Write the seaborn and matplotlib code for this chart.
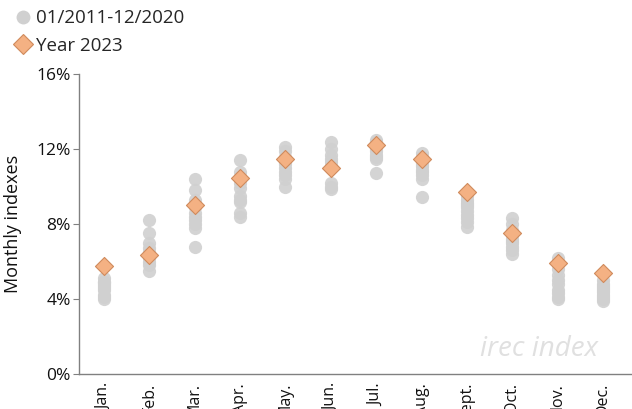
import matplotlib
matplotlib.use('Agg')
import numpy as np
import pandas as pd
import matplotlib.pyplot as plt
import seaborn as sns
from matplotlib.lines import Line2D
from matplotlib.ticker import FuncFormatter

months = ['Jan.', 'Feb.', 'Mar.', 'Apr.', 'May.', 'Jun.', 'Jul.', 'Aug.', 'Sept.', 'Oct.', 'Nov.', 'Dec.']

# monthly indexes 2011-2020 (%), ten values per month
jan = [5.1, 4.9, 4.8, 4.7, 4.6, 4.5, 4.2, 4.1, 4.0, 4.9]
feb = [8.2, 7.5, 7.0, 6.7, 6.4, 6.2, 6.0, 5.8, 5.5, 6.5]
mar = [10.4, 9.8, 9.3, 8.9, 8.4, 8.2, 8.0, 7.8, 6.8, 8.6]
apr = [11.4, 10.8, 10.5, 10.2, 9.9, 9.5, 9.3, 9.2, 8.6, 8.4]
may = [12.1, 11.9, 11.6, 11.3, 11.0, 10.8, 10.6, 10.4, 10.0, 11.2]
jun = [12.4, 12.0, 11.7, 11.5, 11.3, 11.0, 10.2, 10.0, 9.85, 11.1]
jul = [12.5, 12.4, 12.3, 12.1, 11.9, 11.7, 11.5, 11.6, 10.75, 12.0]
aug = [11.8, 11.6, 11.3, 11.1, 10.9, 10.8, 10.6, 10.4, 9.45, 11.2]
sep = [9.5, 9.3, 9.1, 8.9, 8.7, 8.5, 8.3, 8.1, 7.85, 9.0]
oct_ = [8.3, 8.0, 7.7, 7.4, 7.2, 7.0, 6.8, 6.6, 6.4, 7.1]
nov = [6.2, 5.9, 5.6, 5.3, 5.0, 4.8, 4.5, 4.3, 4.1, 4.0]
dec = [5.0, 4.8, 4.7, 4.5, 4.4, 4.2, 4.1, 4.0, 3.9, 4.6]

year2023 = [5.76, 6.35, 9.0, 10.45, 11.47, 10.99, 12.2, 11.47, 9.7, 7.52, 5.92, 5.39]

hist_vals = [jan, feb, mar, apr, may, jun, jul, aug, sep, oct_, nov, dec]
hist = pd.DataFrame({
    'month': [m for m, v in zip(months, hist_vals) for _ in v],
    'value': [x for v in hist_vals for x in v],
})
cur = pd.DataFrame({'month': months, 'value': year2023})

sns.set_style('white')
plt.rcParams['font.family'] = ['Open Sans', 'DejaVu Sans']

fig = plt.figure(figsize=(6.32, 4.09), dpi=100)
ax = fig.add_axes([0.125, 0.0856, 0.875, 0.733])

grey = '#d0d0d0'
orange = '#f4b183'

sns.stripplot(data=hist, x='month', y='value', order=months, jitter=False,
              color=grey, size=9.5, alpha=0.9, linewidth=0, ax=ax, zorder=2)
sns.stripplot(data=cur, x='month', y='value', order=months, jitter=False,
              color=orange, marker='D', size=9.2, linewidth=0.8,
              edgecolor='#d08a5c', ax=ax, zorder=3)

ax.set_ylim(0, 16)
ax.set_yticks([0, 4, 8, 12, 16])
ax.yaxis.set_major_formatter(FuncFormatter(lambda v, p: f'{v:.0f}%'))
ax.set_xlim(-0.55, 11.64)
ax.set_xlabel('')
ax.set_ylabel('Monthly indexes', fontsize=13, color='#111111')
ax.yaxis.set_label_coords(-0.103, 0.5)

for s in ['top', 'right']:
    ax.spines[s].set_visible(False)
for s in ['left', 'bottom']:
    ax.spines[s].set_color('#808080')
    ax.spines[s].set_linewidth(1)

ax.tick_params(axis='y', left=True, length=4, color='#808080', labelsize=12.5,
               labelcolor='#111111', pad=2)
ax.tick_params(axis='x', bottom=False, labelsize=11.5, labelcolor='#111111',
               rotation=90, pad=3)

handles = [
    Line2D([], [], marker='o', linestyle='', markersize=10, markerfacecolor=grey,
           markeredgewidth=0),
    Line2D([], [], marker='D', linestyle='', markersize=10.5, markerfacecolor=orange,
           markeredgecolor='#d08a5c', markeredgewidth=0.8),
]
fig.legend(handles, ['01/2011-12/2020', 'Year 2023'], loc='upper left',
           bbox_to_anchor=(0.0, 1.005), frameon=False, fontsize=13.5,
           handletextpad=0.1, borderaxespad=0.2, labelspacing=0.5,
           handlelength=1.2)

fig.text(0.76, 0.13, 'irec index', fontsize=20, style='italic', color='#e0e0e0',
         zorder=0)

fig.savefig('out.png', dpi=100)
